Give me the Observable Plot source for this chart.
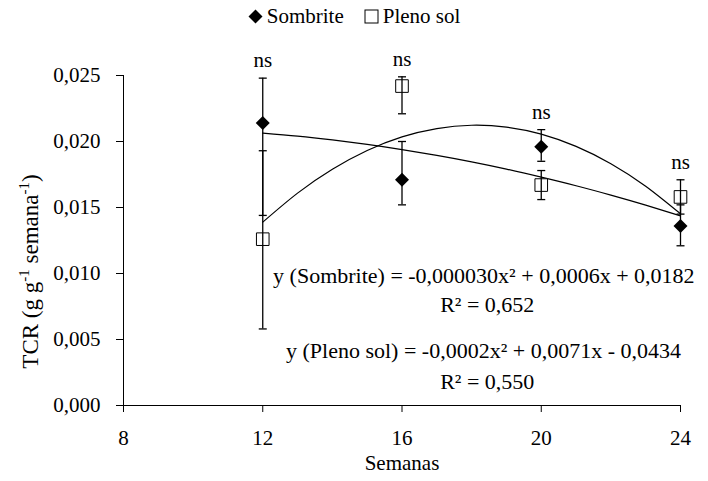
<!DOCTYPE html>
<html><head><meta charset="utf-8">
<script src="https://cdn.jsdelivr.net/npm/d3@7"></script>
<script src="https://cdn.jsdelivr.net/npm/@observablehq/plot@0.6"></script>
<style>
body{margin:0;background:#fff;font-family:'Liberation Serif';color:#000;}
#legend{height:32px;width:708px;display:flex;justify-content:center;align-items:center;font-size:21px;font-family:'Liberation Serif';}
#legend .item{display:inline-flex;align-items:center;margin:0 10px;}
#legend svg{margin-right:4px;}
#chart svg{display:block;}
</style></head><body>
<div id="legend"></div><div id="chart"></div>
<script>
// ---- data ----
const seriesNames = ["Sombrite", "Pleno sol"];
const semanas = [12, 16, 20, 24];
const sombrite     = [0.0214, 0.0171, 0.0196, 0.0136];
const sombriteLow  = [0.0144, 0.0152, 0.0185, 0.0121];
const sombriteHigh = [0.0248, 0.0200, 0.0209, 0.0152];
const plenoSol     = [0.0126, 0.0242, 0.0167, 0.0158];
const plenoLow     = [0.0058, 0.0221, 0.0156, 0.0145];
const plenoHigh    = [0.0193, 0.0249, 0.0178, 0.0171];
const significance = ["ns", "ns", "ns", "ns"];
// trend lines
const trendWeeks    = [12, 13, 14, 15, 16, 17, 18, 19, 20, 21, 22, 23, 24];
const trendSombrite = [0.02064, 0.02041, 0.02012, 0.01978, 0.01939, 0.01895, 0.01846, 0.01791, 0.01730, 0.01665, 0.01594, 0.01518, 0.01437];
const trendPleno    = [0.01389, 0.01609, 0.01790, 0.01932, 0.02035, 0.02098, 0.02123, 0.02109, 0.02056, 0.01963, 0.01832, 0.01661, 0.01452];
const xTicks = [8, 12, 16, 20, 24];
const yTicks = [0, 0.005, 0.010, 0.015, 0.020, 0.025];
const eqSombrite = "y (Sombrite) = -0,000030x² + 0,0006x + 0,0182";
const r2Sombrite = "R² = 0,652";
const eqPleno = "y (Pleno sol) = -0,0002x² + 0,0071x - 0,0434";
const r2Pleno = "R² = 0,550";
const xLabel = "Semanas";
const yLabel = "TCR (g g-1 semana-1)";

// ---- legend ----
const leg = document.getElementById("legend");
leg.innerHTML =
  `<span class="item"><svg width="15" height="15"><path d="M7.5 0.5L14.5 7.5L7.5 14.5L0.5 7.5Z" fill="black"/></svg><span>${seriesNames[0]}</span></span>` +
  `<span class="item"><svg width="15" height="15"><rect x="1" y="1" width="13" height="13" fill="white" stroke="black"/></svg><span>${seriesNames[1]}</span></span>`;

// ---- symbols ----
const rad = s => Math.sqrt(s / Math.PI);
const diamondSym = {draw(c, s){const r = rad(s); c.moveTo(0,-r); c.lineTo(r,0); c.lineTo(0,r); c.lineTo(-r,0); c.closePath();}};
const squareSym = {draw(c, s){const r = rad(s); c.moveTo(-r,-r); c.lineTo(r,-r); c.lineTo(r,r); c.lineTo(-r,r); c.closePath();}};
const capSym = {draw(c, s){const r = rad(s); c.moveTo(-r,0); c.lineTo(r,0);}};

const fmt = d => d.toFixed(3).replace(".", ",");
const idx = semanas.map((d, i) => i);
const fs = 21;

const plot = Plot.plot({
  width: 708, height: 449,
  marginLeft: 123, marginRight: 28, marginTop: 43, marginBottom: 76,
  style: {fontFamily: "Liberation Serif", fontSize: fs + "px", background: "white", color: "black", overflow: "visible"},
  x: {domain: [8, 24]},
  y: {domain: [0, 0.025]},
  marks: [
    Plot.axisX({ticks: xTicks, tickSize: 7, tickPadding: 18, label: null, fontSize: fs}),
    Plot.axisY({ticks: yTicks, tickSize: 7, tickPadding: 16, tickFormat: fmt, label: null, fontSize: fs}),
    Plot.ruleX([8], {y1: 0, y2: 0.025}),
    Plot.ruleY([0], {x1: 8, x2: 24}),
    Plot.text([xLabel], {frameAnchor: "bottom", dy: 64, fontSize: fs}),
    Plot.text([yLabel], {frameAnchor: "left", textAnchor: "middle", lineAnchor: "middle", rotate: -90, dx: -93, dy: 31, fontSize: 23}),
    // trend curves
    Plot.line(trendWeeks, {x: d => d, y: (d, i) => trendSombrite[i], curve: "natural", stroke: "black", strokeWidth: 1.2}),
    Plot.line(trendWeeks, {x: d => d, y: (d, i) => trendPleno[i], curve: "natural", stroke: "black", strokeWidth: 1.2}),
    // markers
    Plot.dot(idx, {x: i => semanas[i], y: i => sombrite[i], symbol: diamondSym, r: 7, fill: "black", stroke: "none"}),
    Plot.dot(idx, {x: i => semanas[i], y: i => plenoSol[i], symbol: squareSym, r: 6.3, fill: "white", stroke: "black", strokeWidth: 1}),
    // error bars
    Plot.ruleX(idx, {x: i => semanas[i], y1: i => sombriteLow[i], y2: i => sombriteHigh[i], stroke: "black", strokeWidth: 1.3}),
    Plot.ruleX(idx, {x: i => semanas[i], y1: i => plenoLow[i], y2: i => plenoHigh[i], stroke: "black", strokeWidth: 1.3}),
    Plot.dot(idx, {x: i => semanas[i], y: i => sombriteLow[i], symbol: capSym, r: 4, stroke: "black", strokeWidth: 1.3, fill: "none"}),
    Plot.dot(idx, {x: i => semanas[i], y: i => sombriteHigh[i], symbol: capSym, r: 4, stroke: "black", strokeWidth: 1.3, fill: "none"}),
    Plot.dot(idx, {x: i => semanas[i], y: i => plenoLow[i], symbol: capSym, r: 4, stroke: "black", strokeWidth: 1.3, fill: "none"}),
    Plot.dot(idx, {x: i => semanas[i], y: i => plenoHigh[i], symbol: capSym, r: 4, stroke: "black", strokeWidth: 1.3, fill: "none"}),
    // significance labels
    Plot.text(idx, {x: i => semanas[i], y: i => Math.max(sombriteHigh[i], plenoHigh[i]), text: i => significance[i], lineAnchor: "bottom", dy: -11, fontSize: fs}),
    // equations
    Plot.text([eqSombrite], {x: 18.35, y: 0.00985, fontSize: 22}),
    Plot.text([r2Sombrite], {x: 18.45, y: 0.00758, fontSize: 22}),
    Plot.text([eqPleno], {x: 18.34, y: 0.00417, fontSize: 22}),
    Plot.text([r2Pleno], {x: 18.45, y: 0.00177, fontSize: 22})
  ]
});
document.getElementById("chart").appendChild(plot);

// superscripts in the y label
d3.select(plot).selectAll("text").filter(function(){ return this.textContent === yLabel; }).each(function(){
  const t = d3.select(this);
  t.text(null);
  const parts = [["TCR (g g", 0], ["-1", 1], [" semana", 0], ["-1", 1], [")", 0]];
  let prevSup = false;
  for (const [s, sup] of parts) {
    const ts = t.append("tspan").text(s);
    if (sup) { ts.attr("font-size", 15).attr("dy", -9); prevSup = true; }
    else if (prevSup) { ts.attr("dy", 9); prevSup = false; }
  }
});
</script>
</body></html>
